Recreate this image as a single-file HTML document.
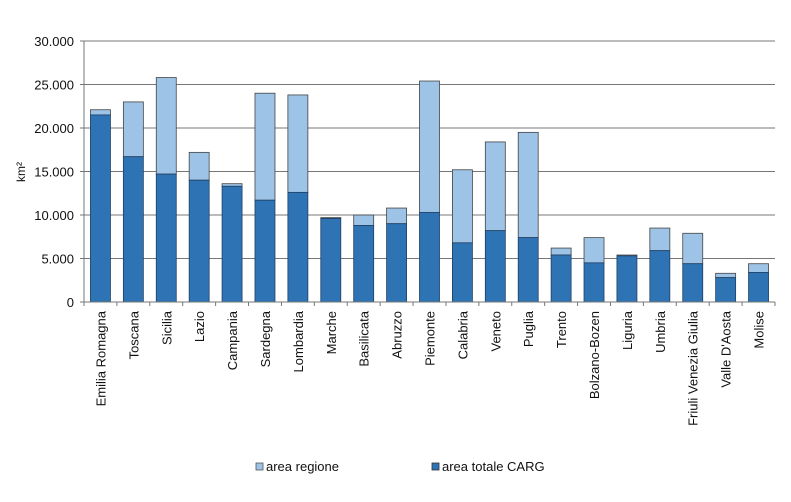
<!DOCTYPE html>
<html><head><meta charset="utf-8"><style>
html,body{margin:0;padding:0;background:#fff;}
svg text{font-family:"Liberation Sans",Arial,sans-serif;fill:#111;}
</style></head><body>
<svg width="791" height="497" viewBox="0 0 791 497">
<g id="grid"></g>
<g id="bars"></g>
<g id="axes"></g>
<text transform="translate(25,172) rotate(-90)" text-anchor="middle" font-size="12">km²</text>
<g>
<g>
<rect x="256" y="463" width="7" height="7" fill="#9dc3e6" stroke="#555" stroke-width="0.8"/>
<text x="266" y="471" font-size="13">area regione</text></g>
<g>
<rect x="432" y="463" width="7" height="7" fill="#2e74b5" stroke="#333" stroke-width="0.8"/>
<text x="442" y="471" font-size="13">area totale CARG</text></g>
</g>
</svg>
<script>
const categories=["Emilia Romagna","Toscana","Sicilia","Lazio","Campania","Sardegna","Lombardia","Marche","Basilicata","Abruzzo","Piemonte","Calabria","Veneto","Puglia","Trento","Bolzano-Bozen","Liguria","Umbria","Friuli Venezia Giulia","Valle D'Aosta","Molise"];
const areaRegione=[22100,23000,25800,17200,13600,24000,23800,9700,10000,10800,25400,15200,18400,19500,6200,7400,5400,8500,7900,3300,4400];
const areaCarg=[21500,16700,14700,14000,13300,11700,12600,9600,8800,9000,10300,6800,8200,7400,5400,4500,5300,5900,4400,2800,3400];
const yTicks=[0,5000,10000,15000,20000,25000,30000];
const yTickLabels=["0","5.000","10.000","15.000","20.000","25.000","30.000"];
const NS="http://www.w3.org/2000/svg";
const X0=84,X1=775,Y0=302,Y1=41,YMAX=30000;
const band=(X1-X0)/categories.length;
function y(v){return Y0-(v/YMAX)*(Y0-Y1);}
function xc(i){return X0+band*(i+0.5);}
function mk(tag,attrs,parent){const e=document.createElementNS(NS,tag);for(const k in attrs)e.setAttribute(k,attrs[k]);parent.appendChild(e);return e;}
const grid=document.getElementById('grid'),bars=document.getElementById('bars'),axes=document.getElementById('axes');
yTicks.forEach((t,i)=>{
  if(t>0){const l=mk('line',{x1:X0,x2:X1,y1:y(t),y2:y(t),stroke:'#777','stroke-width':1},grid);
  
  }
  const tk=mk('line',{x1:X0-4,x2:X0,y1:y(t),y2:y(t),stroke:'#777'},axes);
  
  
  const tx=mk('text',{x:X0-10,y:y(t)+5,'text-anchor':'end','font-size':13},axes);
  tx.textContent=yTickLabels[i];
  
  
});
const bw=20;
categories.forEach((c,i)=>{
  const x=xc(i)-bw/2;
  const r1=mk('rect',{x:x,y:y(areaRegione[i]),width:bw,height:y(areaCarg[i])-y(areaRegione[i]),fill:'#9dc3e6',stroke:'#444','stroke-width':0.8},bars);
  
  
  const r2=mk('rect',{x:x,y:y(areaCarg[i]),width:bw,height:Y0-y(areaCarg[i]),fill:'#2e74b5',stroke:'#1f3f63','stroke-width':0.8},bars);
  
  
  const tk=mk('line',{x1:X0+band*i,x2:X0+band*i,y1:Y0,y2:Y0+4,stroke:'#777'},axes);
  
  
  const tx=mk('text',{transform:`translate(${xc(i)+5},311) rotate(-90)`,'text-anchor':'end','font-size':13},axes);
  tx.textContent=c;
  
  
});
const tkEnd=mk('line',{x1:X1,x2:X1,y1:Y0,y2:Y0+4,stroke:'#777'},axes);


const ya=mk('line',{x1:X0,x2:X0,y1:Y1,y2:Y0,stroke:'#777'},axes);


const xa=mk('line',{x1:X0,x2:X1,y1:Y0,y2:Y0,stroke:'#777'},axes);


</script>
</body></html>
